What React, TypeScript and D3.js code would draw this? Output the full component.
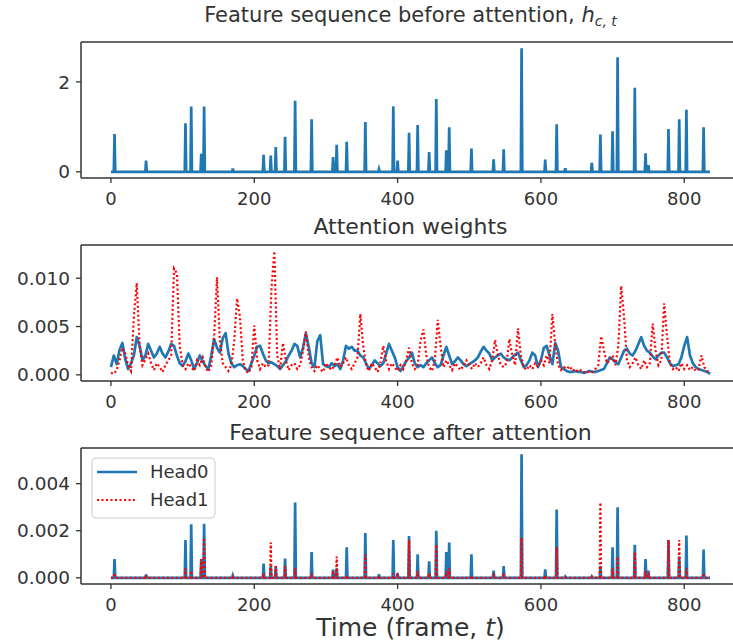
import React from 'react';
import * as d3 from 'd3';

// ---- data ----
const N_FRAMES = 837;
const xTicks = [0, 200, 400, 600, 800];

// spikes of the feature sequence (frames where it is non-zero)
const spikeFrames = [
  5, 49, 104, 112, 126, 130, 170, 213, 223, 230,
  243, 257, 280, 310, 315, 329, 355, 374, 394, 400,
  416, 428, 444, 454, 468, 472, 503, 534, 548, 573,
  606, 622, 634, 671, 683, 700, 707, 731, 746, 750,
  778, 793, 803, 827,
];
const featureValues = [
  0.84, 0.25, 1.08, 1.45, 0.40, 1.45, 0.07, 0.38, 0.36, 0.55,
  0.78, 1.58, 1.17, 0.33, 0.60, 0.67, 1.11, 0.06, 1.46, 0.25,
  0.87, 1.04, 0.44, 1.62, 0.48, 0.99, 0.52, 0.28, 0.50, 2.75,
  0.27, 1.06, 0.08, 0.20, 0.83, 0.90, 2.55, 1.87, 0.41, 0.15,
  0.95, 1.17, 1.38, 0.99,
];
const afterHead0 = [
  0.0008, 0.00014, 0.0016, 0.00227, 0.0008, 0.0023, 0.0001, 0.0006, 0.0005, 0.0005,
  0.00082, 0.0032, 0.0011, 0.00035, 0.0004, 0.0013, 0.0019, 0.00015, 0.0016, 0.0002,
  0.00177, 0.001, 0.0007, 0.002, 0.0011, 0.0015, 0.001, 0.0003, 0.0005, 0.00525,
  0.00036, 0.0029, 0.00005, 0.00005, 0.0005, 0.0013, 0.003, 0.0014, 0.0008, 0.0003,
  0.0016, 0.0009, 0.0018, 0.0012,
];
const afterHead1 = [
  0.0002, 0.0001, 0.0004, 0.0003, 0.0008, 0.0017, 0.00005, 0.0002, 0.0015, 0.0005,
  0.0005, 0.0004, 0.0001, 0.0003, 0.0009, 0.0001, 0.001, 0.0001, 0.0002, 0.0001,
  0.0016, 0.0003, 0.0002, 0.0014, 0.0003, 0.0004, 0.0001, 0.0001, 0.0002, 0.0017,
  0.0001, 0.0013, 0.00002, 0.00005, 0.0032, 0.0004, 0.0009, 0.0011, 0.0003, 0.0001,
  0.0016, 0.0016, 0.0004, 0.0002,
];

// attention weights, sampled every 4 frames
const ATTN_STEP = 4;
const attnHead0 = [
  0.0008, 0.0020, 0.0011, 0.0026, 0.0033, 0.0016, 0.0006, 0.0012, 0.0020, 0.0039,
  0.0030, 0.0015, 0.0020, 0.0032, 0.0025, 0.0018, 0.0022, 0.0029, 0.0022, 0.0018,
  0.0024, 0.0032, 0.0030, 0.0020, 0.0012, 0.0009, 0.0014, 0.0022, 0.0015, 0.0006,
  0.0012, 0.0020, 0.0014, 0.0009, 0.0006, 0.0020, 0.0037, 0.0028, 0.0023, 0.0038,
  0.0043, 0.0022, 0.0012, 0.0008, 0.0010, 0.0011, 0.0009, 0.0006, 0.0004, 0.0012,
  0.0020, 0.0029, 0.0030, 0.0022, 0.0015, 0.0012, 0.0013, 0.0011, 0.0009, 0.0006,
  0.0010, 0.0014, 0.0020, 0.0025, 0.0032, 0.0030, 0.0018, 0.0028, 0.0043, 0.0029,
  0.0012, 0.0008, 0.0035, 0.0041, 0.0011, 0.0009, 0.0008, 0.0012, 0.0009, 0.0011,
  0.0006, 0.0015, 0.0030, 0.0027, 0.0029, 0.0025, 0.0025, 0.0020, 0.0018, 0.0012,
  0.0006, 0.0010, 0.0015, 0.0012, 0.0009, 0.0012, 0.0022, 0.0032, 0.0025, 0.0018,
  0.0008, 0.0004, 0.0009, 0.0014, 0.0018, 0.0023, 0.0012, 0.0008, 0.0010, 0.0008,
  0.0012, 0.0015, 0.0018, 0.0012, 0.0008, 0.0010, 0.0020, 0.0029, 0.0020, 0.0011,
  0.0014, 0.0018, 0.0015, 0.0011, 0.0009, 0.0011, 0.0013, 0.0015, 0.0018, 0.0024,
  0.0029, 0.0025, 0.0022, 0.0015, 0.0018, 0.0020, 0.0022, 0.0018, 0.0016, 0.0015,
  0.0018, 0.0021, 0.0023, 0.0015, 0.0008, 0.0010, 0.0015, 0.0023, 0.0020, 0.0008,
  0.0015, 0.0028, 0.0030, 0.0020, 0.0011, 0.0033, 0.0025, 0.0008, 0.0006, 0.0004,
  0.0003, 0.0003, 0.0004, 0.0003, 0.0003, 0.0002, 0.0003, 0.0004, 0.0003, 0.0003,
  0.0004, 0.0005, 0.0006, 0.0012, 0.0018, 0.0016, 0.0013, 0.0011, 0.0018, 0.0025,
  0.0027, 0.0022, 0.0020, 0.0025, 0.0032, 0.0039, 0.0030, 0.0025, 0.0023, 0.0019,
  0.0016, 0.0020, 0.0023, 0.0023, 0.0018, 0.0012, 0.0009, 0.0010, 0.0011, 0.0018,
  0.0030, 0.0039, 0.0020, 0.0012, 0.0008, 0.0006, 0.0005, 0.0004, 0.0003, 0.0001,
];
const attnHead1 = [
  0.0002, 0.0001, 0.0005, 0.0015, 0.0028, 0.0022, 0.0010, 0.0004, 0.0060, 0.0095,
  0.0030, 0.0010, 0.0016, 0.0022, 0.0012, 0.0005, 0.0012, 0.0008, 0.0003, 0.0010,
  0.0015, 0.0020, 0.0110, 0.0105, 0.0030, 0.0010, 0.0006, 0.0012, 0.0008, 0.0004,
  0.0015, 0.0010, 0.0018, 0.0008, 0.0003, 0.0010, 0.0040, 0.0101, 0.0035, 0.0012,
  0.0008, 0.0004, 0.0010, 0.0035, 0.0079, 0.0060, 0.0015, 0.0004, 0.0002, 0.0008,
  0.0051, 0.0015, 0.0006, 0.0012, 0.0008, 0.0010, 0.0090, 0.0128, 0.0020, 0.0006,
  0.0033, 0.0015, 0.0005, 0.0010, 0.0012, 0.0006, 0.0010, 0.0025, 0.0045, 0.0018,
  0.0008, 0.0004, 0.0010, 0.0006, 0.0003, 0.0012, 0.0008, 0.0005, 0.0010, 0.0018,
  0.0008, 0.0012, 0.0018, 0.0010, 0.0006, 0.0012, 0.0018, 0.0063, 0.0030, 0.0010,
  0.0004, 0.0012, 0.0008, 0.0003, 0.0012, 0.0030, 0.0015, 0.0006, 0.0012, 0.0008,
  0.0004, 0.0010, 0.0006, 0.0015, 0.0028, 0.0012, 0.0006, 0.0010, 0.0035, 0.0047,
  0.0020, 0.0008, 0.0004, 0.0015, 0.0057, 0.0030, 0.0008, 0.0015, 0.0010, 0.0005,
  0.0012, 0.0008, 0.0005, 0.0010, 0.0015, 0.0010, 0.0006, 0.0012, 0.0008, 0.0012,
  0.0018, 0.0010, 0.0006, 0.0015, 0.0036, 0.0020, 0.0010, 0.0008, 0.0012, 0.0037,
  0.0020, 0.0010, 0.0048, 0.0020, 0.0008, 0.0005, 0.0010, 0.0006, 0.0012, 0.0008,
  0.0015, 0.0010, 0.0020, 0.0012, 0.0063, 0.0030, 0.0010, 0.0005, 0.0008, 0.0006,
  0.0009, 0.0004, 0.0006, 0.0003, 0.0005, 0.0003, 0.0002, 0.0004, 0.0003, 0.0006,
  0.0010, 0.0040, 0.0025, 0.0012, 0.0015, 0.0020, 0.0010, 0.0030, 0.0092, 0.0060,
  0.0015, 0.0008, 0.0012, 0.0018, 0.0010, 0.0006, 0.0015, 0.0008, 0.0012, 0.0053,
  0.0025, 0.0010, 0.0015, 0.0074, 0.0040, 0.0012, 0.0006, 0.0008, 0.0004, 0.0012,
  0.0006, 0.0010, 0.0005, 0.0008, 0.0004, 0.0006, 0.0020, 0.0008, 0.0004, 0.0002,
];

const yTicksTop = [0, 2];
const yTicksMid = [0, 0.005, 0.01];
const yTicksBot = [0, 0.002, 0.004];

const BLUE = '#1f77b4';
const RED = '#ff0000';
const INK = '#333';
const FONT = 'DejaVu Sans, Verdana, sans-serif';
const W = 733;
const H = 642;

type Pt = [number, number];

// full per-frame sequence: zero except at the spike frames
const spikeSeries = (vals: number[]): Pt[] => {
  const byFrame = new Map(spikeFrames.map((f, i) => [f, vals[i]]));
  return d3.range(N_FRAMES).map(f => [f, byFrame.get(f) ?? 0] as Pt);
};

const x = d3.scaleLinear()
  .domain([-(N_FRAMES - 1) * 0.05, (N_FRAMES - 1) * 1.05])
  .range([81, 740]);

const padded = (vals: number[], top: number, bottom: number) => {
  const [lo, hi] = d3.extent([0, ...vals]) as [number, number];
  const pad = (hi - lo) * 0.05;
  return d3.scaleLinear().domain([lo - pad, hi + pad]).range([bottom, top]);
};

const Axes = ({ y, top, bottom, yTicks, fmt, title, children }: any) => (
  <g>
    {children}
    {/* spines */}
    <line x1={81} x2={81} y1={top} y2={bottom} stroke={INK} strokeWidth={1.5} />
    <line x1={81} x2={W + 10} y1={bottom} y2={bottom} stroke={INK} strokeWidth={1.5} />
    <line x1={81} x2={W + 10} y1={top} y2={top} stroke={INK} strokeWidth={1.5} />
    {yTicks.map((t: number) => (
      <g key={t}>
        <line x1={76} x2={81} y1={y(t)} y2={y(t)} stroke={INK} strokeWidth={1.3} />
        <text x={70} y={y(t)} dy="0.36em" textAnchor="end" fontSize={18.5} fill={INK}>{fmt(t)}</text>
      </g>
    ))}
    {xTicks.map(t => (
      <g key={t}>
        <line x1={x(t)} x2={x(t)} y1={bottom} y2={bottom + 5} stroke={INK} strokeWidth={1.3} />
        <text x={x(t)} y={bottom + 27} textAnchor="middle" fontSize={18} fill={INK}>{t}</text>
      </g>
    ))}
    {title}
  </g>
);

export default function App() {
  const cx = (81 + 740) / 2;

  // panel 1
  const top1 = 42, bot1 = 178;
  const y1 = padded(featureValues, top1, bot1);
  const feat = spikeSeries(featureValues);
  const line1 = d3.line<Pt>().x(d => x(d[0])).y(d => y1(d[1]));

  // panel 2
  const top2 = 245, bot2 = 381;
  const y2 = padded([...attnHead0, ...attnHead1], top2, bot2);
  const a0: Pt[] = attnHead0.map((v, i) => [i * ATTN_STEP, v]);
  const a1: Pt[] = attnHead1.map((v, i) => [i * ATTN_STEP, v]);
  const line2 = d3.line<Pt>().x(d => x(d[0])).y(d => y2(d[1]));

  // panel 3
  const top3 = 448, bot3 = 584;
  const y3 = padded([...afterHead0, ...afterHead1], top3, bot3);
  const h0 = spikeSeries(afterHead0);
  const h1 = spikeSeries(afterHead1);
  const line3 = d3.line<Pt>().x(d => x(d[0])).y(d => y3(d[1]));

  const fmt3 = d3.format('.3f');

  return (
    <svg width={W} height={H} fontFamily={FONT}
      style={{ position: 'absolute', left: 0, top: 0, background: '#fff' }}>
      <rect width={W} height={H} fill="#fff" />

      <Axes y={y1} top={top1} bottom={bot1} yTicks={yTicksTop} fmt={(t: number) => String(t)}
        title={
          <text x={cx} y={22} textAnchor="middle" fontSize={21} fill={INK}>
            Feature sequence before attention,{' '}
            <tspan fontStyle="italic">h</tspan>
            <tspan fontStyle="italic" fontSize={14} dy={4}>c, t</tspan>
          </text>
        }>
        <path d={line1(feat) ?? ''} fill="none" stroke={BLUE} strokeWidth={2.7} />
      </Axes>

      <Axes y={y2} top={top2} bottom={bot2} yTicks={yTicksMid} fmt={fmt3}
        title={<text x={cx} y={234} textAnchor="middle" fontSize={22} fill={INK}>Attention weights</text>}>
        <path d={line2(a0) ?? ''} fill="none" stroke={BLUE} strokeWidth={2.7} strokeLinejoin="round" />
        <path d={line2(a1) ?? ''} fill="none" stroke={RED} strokeWidth={2.2} strokeDasharray="2,2.5" />
      </Axes>

      <Axes y={y3} top={top3} bottom={bot3} yTicks={yTicksBot} fmt={fmt3}
        title={<text x={cx} y={440} textAnchor="middle" fontSize={22} fill={INK}>Feature sequence after attention</text>}>
        <path d={line3(h0) ?? ''} fill="none" stroke={BLUE} strokeWidth={2.7} />
        <path d={line3(h1) ?? ''} fill="none" stroke={RED} strokeWidth={2.2} strokeDasharray="2,2.5" />
      </Axes>

      {/* legend */}
      <g>
        <rect x={92} y={458} width={123} height={60} rx={4} fill="#fff" fillOpacity={0.8} stroke="#ccc" />
        <line x1={97} x2={137} y1={472} y2={472} stroke={BLUE} strokeWidth={2.7} />
        <text x={150} y={472} dy="0.36em" fontSize={18} fill={INK}>Head0</text>
        <line x1={97} x2={137} y1={500} y2={500} stroke={RED} strokeWidth={2.2} strokeDasharray="2,2.5" />
        <text x={150} y={500} dy="0.36em" fontSize={18} fill={INK}>Head1</text>
      </g>

      <text x={cx} y={636} textAnchor="middle" fontSize={25} fill={INK}>
        Time (frame, <tspan fontStyle="italic">t</tspan>)
      </text>
    </svg>
  );
}
